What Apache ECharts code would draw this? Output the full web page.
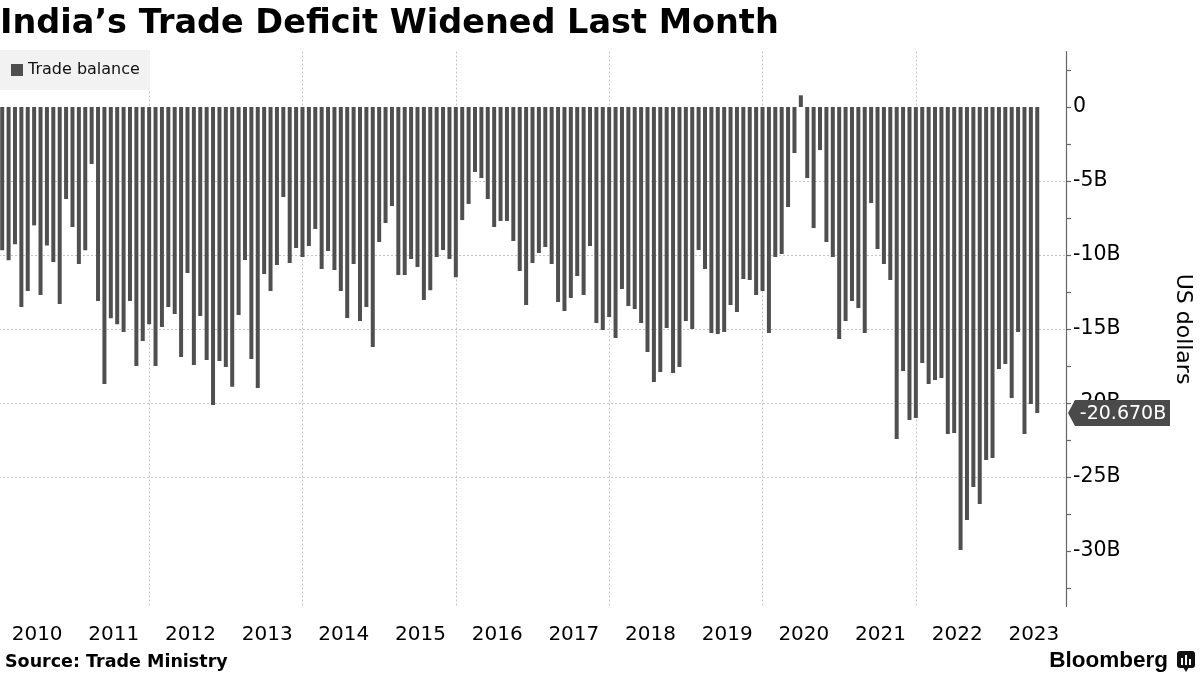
<!DOCTYPE html>
<html>
<head>
<meta charset="utf-8">
<script src="https://cdn.jsdelivr.net/npm/echarts@6/dist/echarts.min.js"></script>
<style>
html,body{margin:0;padding:0;background:#fff;}
#chart{width:1200px;height:675px;}
</style>
</head>
<body>
<div id="chart"></div>
<script>
// ---------------- DATA ----------------
const titleText = 'India’s Trade Deficit Widened Last Month';
const sourceText = 'Source: Trade Ministry';
const seriesName = 'Trade balance';
const axisName = 'US dollars';
const startYear = 2010;

// Monthly trade balance, billions of US dollars (Jan..Dec)
const y2010 = [-9.68, -10.36, -9.28, -13.51, -12.43, -8.00, -12.70, -9.35, -10.47, -13.31, -6.22, -8.11];
const y2011 = [-10.61, -9.68, -3.85, -13.11, -18.72, -14.28, -14.68, -15.20, -13.11, -17.50, -15.81, -14.68];
const y2012 = [-17.50, -14.86, -13.51, -13.99, -16.89, -11.22, -17.43, -14.12, -17.09, -20.14, -17.16, -17.57];
const y2013 = [-18.90, -14.05, -10.34, -17.03, -18.99, -11.28, -12.43, -10.68, -6.08, -10.54, -9.53, -10.14];
const y2014 = [-9.39, -8.24, -10.95, -9.73, -11.01, -12.43, -14.26, -10.61, -14.46, -13.51, -16.22, -9.12];
const y2015 = [-7.84, -6.69, -11.35, -11.35, -10.27, -10.81, -13.04, -12.39, -10.14, -9.66, -10.27, -11.50];
const y2016 = [-7.64, -6.55, -4.39, -4.80, -6.22, -8.11, -7.70, -7.70, -9.05, -11.08, -13.38, -10.54];
const y2017 = [-9.86, -9.46, -10.61, -13.18, -13.78, -12.91, -11.42, -12.70, -9.39, -14.59, -15.07, -14.19];
const y2018 = [-15.61, -12.30, -13.45, -13.65, -14.59, -16.55, -18.58, -17.91, -14.93, -17.97, -17.57, -14.46];
const y2019 = [-15.00, -9.66, -10.95, -15.27, -15.34, -15.20, -13.38, -13.85, -11.62, -11.69, -12.70, -12.43];
const y2020 = [-15.27, -10.14, -9.93, -6.76, -3.11, 0.79, -4.80, -8.18, -2.91, -9.12, -10.14, -15.68];
const y2021 = [-14.46, -13.11, -13.58, -15.27, -6.49, -9.59, -10.61, -11.69, -22.43, -17.84, -21.15, -21.01];
const y2022 = [-17.30, -18.72, -18.45, -18.31, -22.09, -22.03, -29.93, -27.90, -25.68, -26.82, -23.85, -23.72];
const y2023 = [-17.70, -17.36, -19.66, -15.20, -22.09, -20.07, -20.67];

const tradeBalance = [].concat(y2010, y2011, y2012, y2013, y2014, y2015, y2016,
  y2017, y2018, y2019, y2020, y2021, y2022, y2023);

// axis continues a few months past the last observation
const axisExtraMonths = ['2023-08', '2023-09', '2023-10', '2023-11'];

const categories = [];
for (let i = 0; i < tradeBalance.length; i++) {
  const yr = startYear + Math.floor(i / 12);
  const mo = (i % 12) + 1;
  categories.push(yr + '-' + String(mo).padStart(2, '0'));
}
categories.push(...axisExtraMonths);

const yLabelValues = [0, -5, -10, -15, -20, -25, -30];
const yTickValues = [2.5, 0, -2.5, -5, -7.5, -10, -12.5, -15, -17.5, -20, -22.5, -25, -27.5, -30, -32.5];
const yMin = -33.75;
const yMax = 3.75;

// ---------------- LAYOUT / STYLE ----------------
const FONT = 'DejaVu Sans';
const GRID_LEFT = -1, GRID_RIGHT = 134, GRID_TOP = 51.5, GRID_BOTTOM = 68.5;
const BAR_COLOR = '#4f4f4f';
const GRID_COLOR = '#c4c4c4';

const chart = echarts.init(document.getElementById('chart'), null, {renderer: 'canvas'});

const baseGraphic = [
  {
    id: 'bbgText', type: 'text', z: 100,
    style: {text: 'Bloomberg', x: 1168, y: 672, textAlign: 'right', textVerticalAlign: 'bottom',
      fill: '#000', font: 'bold 22.5px "Liberation Sans"'}
  },
  {
    id: 'bbgIcon', type: 'group', z: 100, x: 1177, y: 651,
    children: [
      {type: 'rect', shape: {x: 0, y: 0, width: 18, height: 17, r: 3}, style: {fill: '#111'}},
      {type: 'polygon', shape: {points: [[6, 16], [12, 16], [9, 21]]}, style: {fill: '#111'}},
      {type: 'rect', shape: {x: 4, y: 7, width: 2, height: 7}, style: {fill: '#fff'}},
      {type: 'rect', shape: {x: 8, y: 4, width: 2, height: 10}, style: {fill: '#fff'}},
      {type: 'rect', shape: {x: 12, y: 8, width: 2, height: 6}, style: {fill: '#fff'}}
    ]
  }
];

const option = {
  animation: false,
  backgroundColor: '#fff',
  textStyle: {fontFamily: FONT},
  title: [
    {
      text: titleText, left: 0, top: 7, padding: 0,
      textStyle: {fontFamily: FONT, fontSize: 33.5, fontWeight: 'bold', color: '#000'}
    },
    {
      text: sourceText, left: 5, bottom: 4, padding: 0,
      textStyle: {fontFamily: FONT, fontSize: 17.5, fontWeight: 'bold', color: '#000'}
    }
  ],
  legend: {
    data: [seriesName],
    left: 0, top: 50,
    padding: [12, 10, 12, 11],
    backgroundColor: '#f2f2f2',
    icon: 'rect', itemWidth: 12, itemHeight: 12,
    selectedMode: false,
    textStyle: {fontFamily: FONT, fontSize: 16, color: '#111'}
  },
  grid: {
    left: GRID_LEFT, right: GRID_RIGHT, top: GRID_TOP, bottom: GRID_BOTTOM,
    containLabel: false, outerBoundsMode: 'none'
  },
  xAxis: {
    type: 'category',
    data: categories,
    boundaryGap: true,
    axisLine: {show: false},
    axisTick: {show: false},
    axisLabel: {
      interval: function (idx) { return idx % 12 === 5; },
      formatter: function (v) { return v.slice(0, 4); },
      fontFamily: FONT, fontSize: 20, color: '#000', margin: 18,
      padding: [0, 0, 0, 6]
    },
    splitLine: {
      show: true,
      alignWithLabel: true,
      interval: function (idx) { return idx % 24 === 23; },
      lineStyle: {color: GRID_COLOR, type: [2, 2], width: 1}
    }
  },
  yAxis: [
    {
      type: 'value', position: 'right',
      min: yMin, max: yMax,
      axisLine: {show: true, lineStyle: {color: '#666', width: 1.2}},
      axisTick: {show: true, inside: false, length: 5, customValues: yTickValues,
        lineStyle: {color: '#666', width: 1.2}},
      axisLabel: {
        customValues: yLabelValues,
        formatter: function (v) { return v === 0 ? '0' : v + 'B'; },
        fontFamily: FONT, fontSize: 20.5, color: '#000', margin: 7
      },
      splitLine: {show: false},
      name: axisName, nameLocation: 'middle', nameRotate: -90, nameGap: 106,
      nameTextStyle: {fontFamily: FONT, fontSize: 22, color: '#000'}
    },
    {
      type: 'value', position: 'left',
      min: yMin, max: yMax,
      axisLine: {show: false},
      axisTick: {show: false, customValues: yLabelValues},
      axisLabel: {show: false, customValues: yLabelValues},
      splitLine: {show: true, showMinLine: false, showMaxLine: false,
        lineStyle: {color: GRID_COLOR, type: [2, 2], width: 1}}
    }
  ],
  series: [
    {
      name: seriesName,
      type: 'bar',
      yAxisIndex: 0,
      data: tradeBalance,
      barWidth: 4,
      itemStyle: {color: BAR_COLOR}
    }
  ],
  graphic: baseGraphic
};

chart.setOption(option);

// last-value tag on the right axis
const lastVal = tradeBalance[tradeBalance.length - 1];
const py = chart.convertToPixel({yAxisIndex: 0}, lastVal);
const ax = 1200 - GRID_RIGHT;
chart.setOption({
  graphic: baseGraphic.concat([
    {
      id: 'lastTag', type: 'group', z: 200,
      children: [
        {type: 'polygon', z: 200,
          shape: {points: [[ax + 2, py], [ax + 9, py - 13], [ax + 104, py - 13], [ax + 104, py + 13], [ax + 9, py + 13]]},
          style: {fill: '#4a4a4a'}},
        {type: 'text', z: 201,
          style: {text: lastVal.toFixed(3) + 'B', x: ax + 57, y: py + 1, textAlign: 'center',
            textVerticalAlign: 'middle', fill: '#fff', font: '19px "DejaVu Sans"'}}
      ]
    }
  ])
});
</script>
</body>
</html>
